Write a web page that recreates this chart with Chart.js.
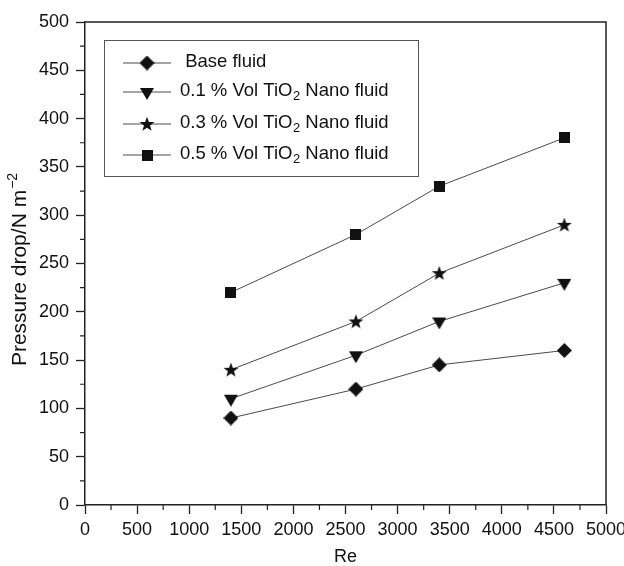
<!DOCTYPE html>
<html>
<head>
<meta charset="utf-8">
<script src="https://cdn.jsdelivr.net/npm/chart.js@4/dist/chart.umd.min.js"></script>
<style>
  html, body { margin: 0; padding: 0; background: #ffffff; }
  #wrap { width: 624px; height: 566px; }
</style>
</head>
<body>
<div id="wrap"><canvas id="c" width="624" height="566"></canvas></div>
<script>
// ---- data ----
const reynolds = [1400, 2600, 3400, 4600];
const baseFluid = [90, 120, 145, 160];
const tio2_01 = [110, 155, 190, 230];
const tio2_03 = [140, 190, 240, 290];
const tio2_05 = [220, 280, 330, 380];
const seriesLabels = [
  " Base fluid",
  "0.1 % Vol TiO\u2082 Nano fluid",
  "0.3 % Vol TiO\u2082 Nano fluid",
  "0.5 % Vol TiO\u2082 Nano fluid"
];
const xTitle = "Re";
const yTitleMain = "Pressure drop/N m";
const yTitleSup = "\u22122";

const FONT = '"Liberation Sans", Arial, Helvetica, sans-serif';
const INK = '#111111';
const LINE = '#4a4a4a';

// ---- marker images ----
function mk(w, h, draw) {
  const c = document.createElement('canvas');
  c.width = w; c.height = h;
  const g = c.getContext('2d');
  g.fillStyle = INK;
  draw(g, w, h);
  return c;
}
const diamond = mk(15, 15, (g, w, h) => {
  g.beginPath(); g.moveTo(w/2, 0); g.lineTo(w, h/2); g.lineTo(w/2, h); g.lineTo(0, h/2); g.closePath(); g.fill();
});
const square = mk(11, 11, (g, w, h) => { g.fillRect(0, 0, w, h); });
const triDown = mk(14, 16, (g, w, h) => {
  // centroid at canvas centre; triangle height 12
  g.beginPath(); g.moveTo(0, 4); g.lineTo(w, 4); g.lineTo(w/2, 16); g.closePath(); g.fill();
});
const star = mk(16, 16, (g, w, h) => {
  const cx = w/2, cy = h/2 + 0.5, ro = 7.8, ri = 3.2;
  g.beginPath();
  for (let i = 0; i < 10; i++) {
    const r = i % 2 === 0 ? ro : ri;
    const a = -Math.PI/2 + i * Math.PI/5;
    const px = cx + r * Math.cos(a), py = cy + r * Math.sin(a);
    if (i === 0) g.moveTo(px, py); else g.lineTo(px, py);
  }
  g.closePath(); g.fill();
});
const markers = [diamond, triDown, star, square];
const seriesValues = [baseFluid, tio2_01, tio2_03, tio2_05];

const datasets = seriesValues.map((vals, i) => ({
  label: seriesLabels[i],
  data: reynolds.map((x, j) => ({ x: x, y: vals[j] })),
  showLine: true,
  borderColor: LINE,
  borderWidth: 1,
  pointStyle: markers[i],
  pointRadius: 7,
  pointHoverRadius: 7,
  pointBorderWidth: 0,
  backgroundColor: INK,
  tension: 0,
  clip: false
}));

// draw text with subscript "₂" rendered as lowered small 2
function drawRich(ctx, text, x, y, size) {
  const parts = text.split('\u2082');
  let cx = x;
  parts.forEach((p, k) => {
    ctx.font = size + 'px ' + FONT;
    ctx.fillText(p, cx, y);
    cx += ctx.measureText(p).width;
    if (k < parts.length - 1) {
      ctx.font = Math.round(size * 0.72) + 'px ' + FONT;
      ctx.fillText('2', cx + 0.5, y + size * 0.3);
      cx += ctx.measureText('2').width + 0.5;
    }
  });
}

const decorPlugin = {
  id: 'decor',
  afterDraw(chart) {
    const ctx = chart.ctx;
    const a = chart.chartArea;
    const xs = chart.scales.x, ys = chart.scales.y;
    ctx.save();
    // frame top & right
    ctx.strokeStyle = '#222';
    ctx.lineWidth = 1.5;
    ctx.beginPath();
    ctx.moveTo(a.left, a.top); ctx.lineTo(a.right, a.top); ctx.lineTo(a.right, a.bottom);
    ctx.stroke();
    // minor ticks
    ctx.lineWidth = 1.2;
    ctx.beginPath();
    for (let v = 250; v < 5000; v += 500) {
      const px = xs.getPixelForValue(v);
      ctx.moveTo(px, a.bottom); ctx.lineTo(px, a.bottom + 5);
    }
    for (let v = 25; v < 500; v += 50) {
      const py = ys.getPixelForValue(v);
      ctx.moveTo(a.left, py); ctx.lineTo(a.left - 5, py);
    }
    ctx.stroke();

    // legend box
    const lx = a.left + 19, ly = a.top + 18, lw = 314, lh = 136;
    ctx.strokeStyle = '#555';
    ctx.lineWidth = 1;
    ctx.strokeRect(lx + 0.5, ly + 0.5, lw, lh);
    const rows = [23, 52, 84, 115];
    ctx.fillStyle = INK;
    ctx.textBaseline = 'middle';
    ctx.textAlign = 'left';
    chart.data.datasets.forEach((ds, i) => {
      const cy = ly + rows[i];
      ctx.strokeStyle = LINE;
      ctx.lineWidth = 1;
      ctx.beginPath(); ctx.moveTo(lx + 19, cy); ctx.lineTo(lx + 67, cy); ctx.stroke();
      const img = markers[i];
      ctx.drawImage(img, lx + 43 - img.width/2, cy - img.height/2);
      ctx.fillStyle = INK;
      drawRich(ctx, ds.label, lx + 76, cy - 1, 18.5);
    });

    // y title
    ctx.save();
    ctx.translate(26, (a.top + a.bottom) / 2 + 6);
    ctx.rotate(-Math.PI / 2);
    ctx.textBaseline = 'alphabetic';
    ctx.font = '21px ' + FONT;
    const w1 = ctx.measureText(yTitleMain).width;
    ctx.font = '14px ' + FONT;
    const w2 = ctx.measureText(yTitleSup).width;
    const start = -(w1 + w2 + 1) / 2;
    ctx.font = '21px ' + FONT;
    ctx.fillText(yTitleMain, start, 0);
    ctx.font = '14px ' + FONT;
    ctx.fillText(yTitleSup, start + w1 + 1, -9);
    ctx.restore();

    // x title
    ctx.font = '18px ' + FONT;
    ctx.textAlign = 'center';
    ctx.textBaseline = 'alphabetic';
    ctx.fillText(xTitle, (a.left + a.right) / 2, 562);
    ctx.restore();
  }
};

new Chart(document.getElementById('c'), {
  type: 'scatter',
  data: { datasets },
  options: {
    responsive: false,
    animation: false,
    layout: { padding: { left: 0, top: 22, right: 18, bottom: 0 } },
    plugins: { legend: { display: false }, tooltip: { enabled: false } },
    scales: {
      x: {
        type: 'linear', min: 0, max: 5000,
        ticks: { stepSize: 500, color: INK, font: { family: FONT, size: 18 }, padding: 5, maxRotation: 0, autoSkip: false,
                 callback: (v) => String(v) },
        grid: { drawOnChartArea: false, drawTicks: true, tickLength: 9, tickColor: '#222', tickWidth: 1.3 },
        border: { color: '#222', width: 1.5 },
        afterFit(s) { s.height = 61; s.paddingLeft = 0; s.paddingRight = 0; }
      },
      y: {
        type: 'linear', min: 0, max: 500,
        ticks: { stepSize: 50, color: INK, font: { family: FONT, size: 18 }, padding: 7,
                 callback: (v) => String(v) },
        grid: { drawOnChartArea: false, drawTicks: true, tickLength: 9, tickColor: '#222', tickWidth: 1.3 },
        border: { color: '#222', width: 1.5 },
        afterFit(s) { s.width = 85; s.paddingTop = 0; s.paddingBottom = 0; }
      }
    }
  },
  plugins: [decorPlugin]
});
</script>
</body>
</html>
